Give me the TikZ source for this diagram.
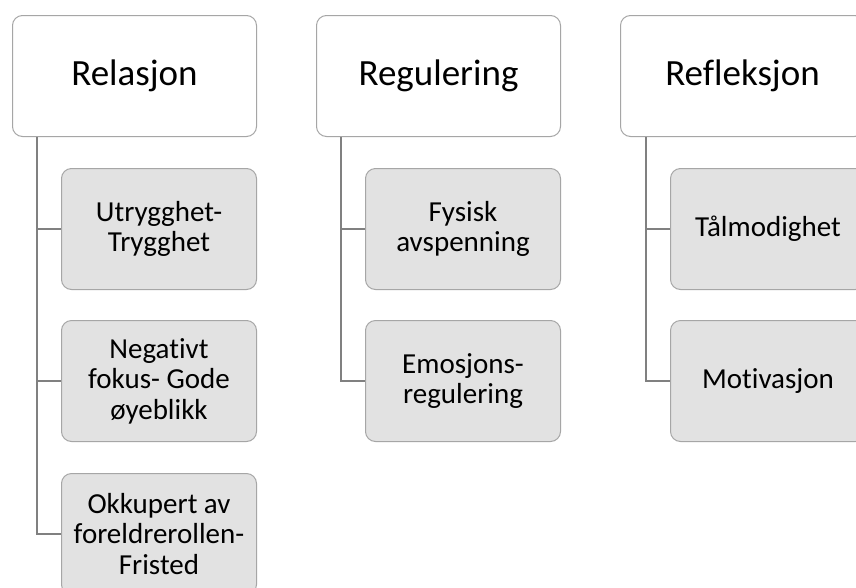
\documentclass[tikz,border=0pt]{standalone}
\usepackage{fontspec}
\setmainfont[Ligatures=NoCommon]{Carlito}
\definecolor{boxline}{RGB}{166,166,166}
\definecolor{conn}{RGB}{128,128,128}
\definecolor{childfill}{RGB}{226,226,226}
\begin{document}
\begin{tikzpicture}[x=1pt,y=-1pt,
  topbox/.style={draw=boxline,line width=1pt,fill=white,rounded corners=10pt,anchor=north west,minimum width=244pt,minimum height=121pt,font=\fontsize{37}{42}\selectfont,inner sep=0pt},
  childbox/.style={draw=boxline,line width=1pt,fill=childfill,rounded corners=10pt,anchor=north west,minimum width=195pt,minimum height=121pt,font=\fontsize{29}{30.5}\selectfont,align=center,inner sep=0pt},
  link/.style={draw=conn,line width=2pt}]
\useasboundingbox (0,0) rectangle (856,587);
\clip (0,0) rectangle (856,587);
\fill[white] (0,0) rectangle (856,587);
% column 1
\node[topbox] (r) at (12,15) {Relasjon};
\node[childbox] (r1) at (61,168) {Utrygghet-\\Trygghet};
\node[childbox] (r2) at (61,320) {Negativt\\fokus- Gode\\øyeblikk};
\node[childbox] (r3) at (61,473) {Okkupert av\\foreldrerollen-\\Fristed};
% column 2
\node[topbox] (g) at (316,15) {Regulering};
\node[childbox] (g1) at (365,168) {Fysisk\\avspenning};
\node[childbox] (g2) at (365,320) {Emosjons-\\regulering};
% column 3
\node[topbox] (f) at (620,15) {Refleksjon};
\node[childbox] (f1) at (670,168) {Tålmodighet};
\node[childbox] (f2) at (670,320) {Motivasjon};
% connectors
\draw[link] ([xshift=25pt]r.south west) |- (r1.west);
\draw[link] ([xshift=25pt]r.south west) |- (r2.west);
\draw[link] ([xshift=25pt]r.south west) |- (r3.west);
\draw[link] ([xshift=25pt]g.south west) |- (g1.west);
\draw[link] ([xshift=25pt]g.south west) |- (g2.west);
\draw[link] ([xshift=26pt]f.south west) |- (f1.west);
\draw[link] ([xshift=26pt]f.south west) |- (f2.west);
\end{tikzpicture}
\end{document}
